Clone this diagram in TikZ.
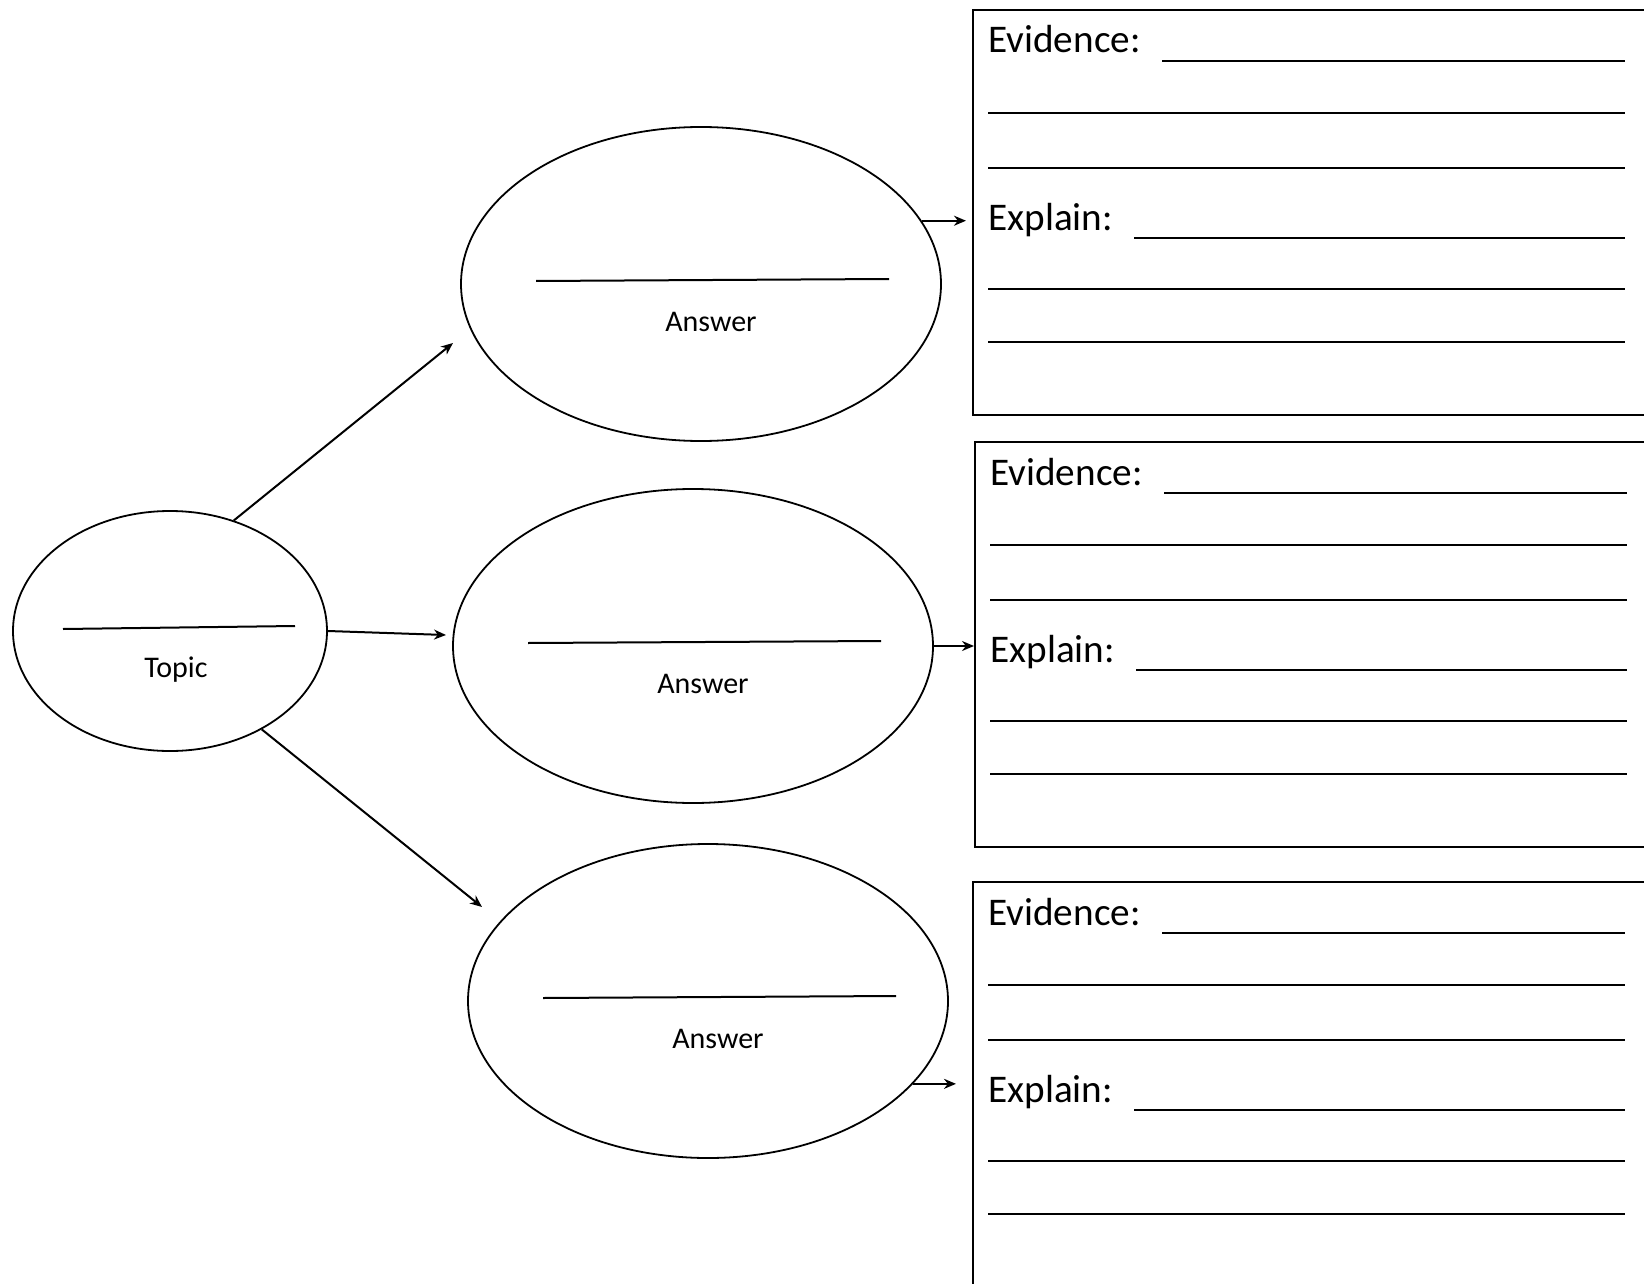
\documentclass[tikz,border=0pt]{standalone}
\usepackage{fontspec}
\setmainfont{Carlito}
\usetikzlibrary{shapes.geometric,arrows.meta}
\begin{document}
\begin{tikzpicture}[x=0.5pt,y=-0.5pt,
  bubble/.style={draw, ellipse, line width=0.9pt, inner sep=0pt, minimum width=240pt, minimum height=157pt},
  topicbub/.style={draw, ellipse, line width=0.9pt, inner sep=0pt, minimum width=157pt, minimum height=120pt},
  panel/.style={draw, rectangle, line width=1.05pt, inner sep=0pt, anchor=north west, minimum width=380pt, minimum height=202.5pt},
  rule/.style={line width=1.15pt},
  blank/.style={line width=1pt},
  conn/.style={line width=1pt, -{Stealth[length=6pt,width=5pt]}},
  lbl/.style={inner sep=0pt, anchor=base, font=\fontsize{15}{18}\selectfont},
  field/.style={inner sep=0pt, anchor=base west, font=\fontsize{19.6}{23}\selectfont}
]
\useasboundingbox (0,0) rectangle (1644,1284);
\fill[white] (0,0) rectangle (1644,1284);
\clip (0,0) rectangle (1644,1284);

% bubbles
\node[topicbub] (topic) at (170,631) {};
\node[bubble] (a1) at (701,284) {};
\node[bubble] (a2) at (693,646) {};
\node[bubble] (a3) at (708,1001) {};

% topic content
\draw[blank] (63,629) -- (295,626);
\node[lbl] (tlbl) at (176,677) {Topic};

% answer contents
\foreach \a in {a1,a2,a3}{
  \begin{scope}[shift={(\a.center)}]
    \draw[blank] (-165,-3) -- (188,-5);
    \node[lbl] (\a-lbl) at (10,47) {Answer};
  \end{scope}
}

% panels
\node[panel] (b1) at (972,9) {};
\node[panel] (b2) at (974,441) {};
\node[panel, minimum height=215pt] (b3) at (972,881) {};

\foreach \b in {b1,b2,b3}{
  \begin{scope}[shift={(\b.north west)}]
    \node[field] (\b-ev) at (16,44) {Evidence:};
    \draw[rule] (190,52) -- (653,52);
    \draw[rule] (16,104) -- (653,104);
    \draw[rule] (16,159) -- (653,159);
    \node[field] (\b-ex) at (16,221) {Explain:};
    \draw[rule] (162,229) -- (653,229);
    \draw[rule] (16,280) -- (653,280);
    \draw[rule] (16,333) -- (653,333);
  \end{scope}
}

% connectors from topic
\coordinate (e1) at (453,343);
\coordinate (e2) at (446,635);
\coordinate (e3) at (482,907);
\draw[conn] (topic.60) -- (e1);
\draw[conn] (topic.east) -- (e2);
\draw[conn] (topic.-47) -- (e3);

% connectors to panels
\draw[conn, shorten >=3pt] (a1.16) -- (a1.16 -| b1.west);
\draw[conn] (a2.east) -- (a2.east -| b2.west);
\draw[conn, shorten >=8pt] (a3.-22) -- (a3.-22 -| b3.west);
\end{tikzpicture}
\end{document}
